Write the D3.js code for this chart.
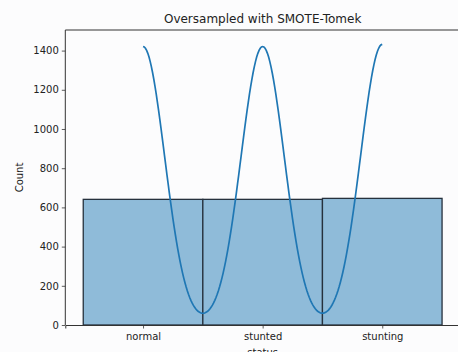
<!DOCTYPE html>
<html>
<head>
<meta charset="utf-8">
<script src="https://cdn.jsdelivr.net/npm/d3@7"></script>
<style>
  html, body { margin: 0; padding: 0; background: #fcfcfd; }
  svg { display: block; font-family: "DejaVu Sans", sans-serif; }
</style>
</head>
<body>
<svg id="chart" width="458" height="352"></svg>
<script>
// Class counts after resampling
const categories = ["normal", "stunted", "stunting"];
const counts = [641, 641, 646];
const yTicks = [0, 200, 400, 600, 800, 1000, 1200, 1400];
const title = "Oversampled with SMOTE-Tomek";
const xLabel = "status";
const yLabel = "Count";

const plot = { left: 65.3, right: 460, top: 30, bottom: 325 };

const svg = d3.select("#chart");

// Category positions are the integer codes 0..n-1, bars span ±0.5
const x = d3.scaleLinear().domain([-0.65, 2.65]).range([plot.left, plot.right]);
const y = d3.scaleLinear().domain([0, 1505]).range([plot.bottom, plot.top]);

const g = svg.append("g");

// Histogram bars (one bin per category, width 1)
g.selectAll("rect.bar")
  .data(counts)
  .join("rect")
  .attr("class", "bar")
  .attr("x", (d, i) => x(i - 0.5))
  .attr("width", (d, i) => x(i + 0.5) - x(i - 0.5))
  .attr("y", d => y(d))
  .attr("height", d => y(0) - y(d))
  .attr("fill", "#8fbbd9")
  .attr("stroke", "#26313d")
  .attr("stroke-width", 1.3);

// Gaussian KDE over the encoded categories, Scott's bandwidth, scaled to counts
const N = d3.sum(counts);
const mean = d3.sum(counts, (c, i) => c * i) / N;
const variance = d3.sum(counts, (c, i) => c * (i - mean) ** 2) / (N - 1);
const bw = Math.sqrt(variance) * Math.pow(N, -1 / 5);
const kde = t => d3.sum(counts, (c, i) =>
  c * Math.exp(-0.5 * ((t - i) / bw) ** 2) / (bw * Math.sqrt(2 * Math.PI)));
const grid = d3.range(0, 200.5, 1).map(k => k / 100);
const kdePts = grid.map(t => [t, kde(t)]);

g.append("path")
  .datum(kdePts)
  .attr("fill", "none")
  .attr("stroke", "#1f77b4")
  .attr("stroke-width", 1.7)
  .attr("d", d3.line().x(d => x(d[0])).y(d => y(d[1])));

// Spines (the right one falls just outside the canvas)
const spine = "#333333";
svg.append("line").attr("x1", plot.left).attr("x2", plot.left)
  .attr("y1", plot.top).attr("y2", plot.bottom)
  .attr("stroke", spine).attr("stroke-width", 1);
svg.append("line").attr("x1", plot.left).attr("x2", plot.right)
  .attr("y1", plot.top).attr("y2", plot.top)
  .attr("stroke", spine).attr("stroke-width", 1);

// Y axis
const yAxis = d3.axisLeft(y).tickValues(yTicks).tickFormat(d3.format("d"))
  .tickSize(3.5).tickPadding(3);
const ya = svg.append("g").attr("transform", `translate(${plot.left},0)`).call(yAxis);
ya.select(".domain").remove();
ya.selectAll("line").attr("stroke", spine).attr("stroke-width", 0.8);
ya.selectAll("text").attr("font-size", 10).attr("fill", "#222")
  .attr("font-family", "DejaVu Sans, sans-serif");

// X axis
const xAxis = d3.axisBottom(x).tickValues(d3.range(categories.length))
  .tickFormat(i => categories[i]).tickSize(3.5).tickPadding(4);
const xa = svg.append("g").attr("transform", `translate(0,${plot.bottom})`).call(xAxis);
xa.select(".domain").attr("stroke", spine).attr("stroke-width", 1);
xa.selectAll("line").attr("stroke", spine).attr("stroke-width", 0.8);
xa.selectAll("text").attr("font-size", 10).attr("fill", "#222")
  .attr("font-family", "DejaVu Sans, sans-serif");

// Labels
svg.append("text").attr("x", x(1)).attr("y", 23)
  .attr("text-anchor", "middle").attr("font-size", 12).attr("fill", "#222")
  .text(title);
svg.append("text").attr("x", x(1)).attr("y", 356)
  .attr("text-anchor", "middle").attr("font-size", 10).attr("fill", "#222")
  .text(xLabel);
svg.append("text")
  .attr("transform", `translate(23,${(plot.top + plot.bottom) / 2}) rotate(-90)`)
  .attr("text-anchor", "middle").attr("font-size", 10).attr("fill", "#222")
  .text(yLabel);
</script>
</body>
</html>
